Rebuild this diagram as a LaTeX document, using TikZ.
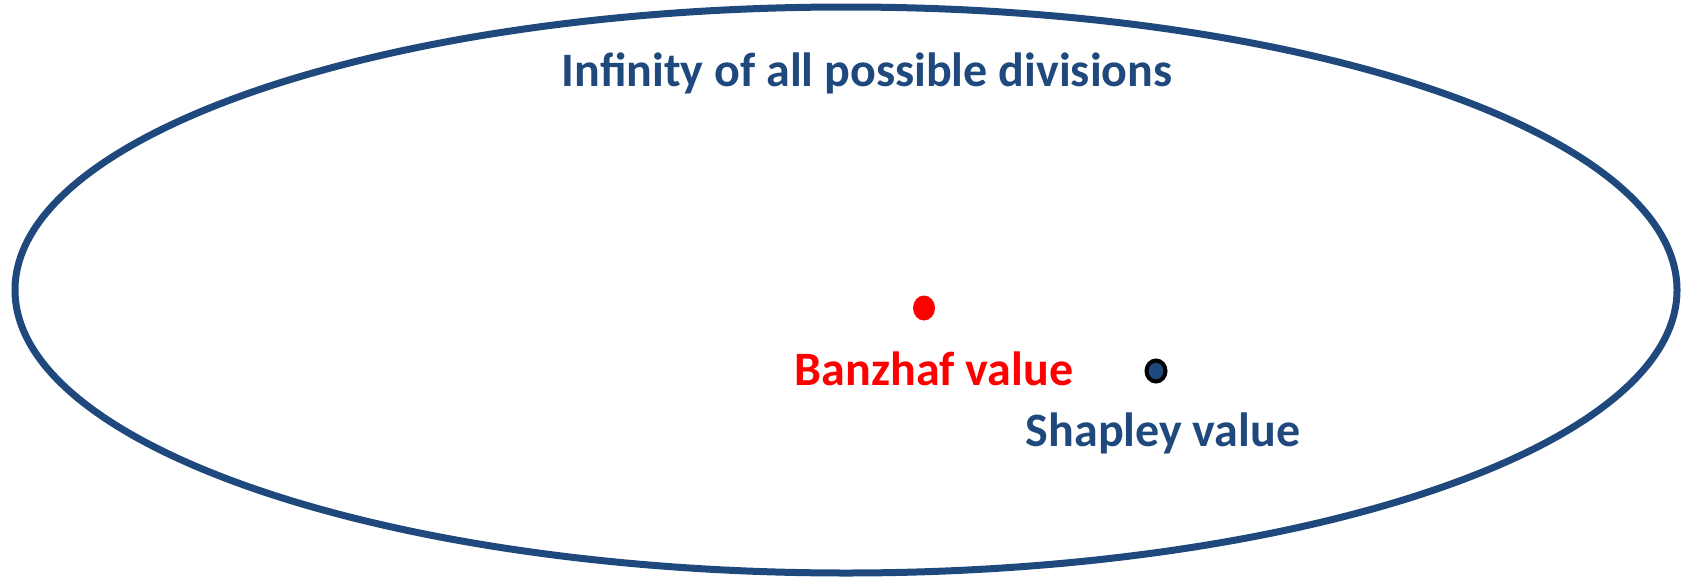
\documentclass[tikz,border=0pt]{standalone}
\usepackage{fontspec}
\setmainfont{Carlito}
\usepackage{tikz}
\usetikzlibrary{shapes.geometric}
\definecolor{divblue}{HTML}{1F497D}
\definecolor{banzred}{HTML}{FF0000}
\tikzset{
  lbl/.style={font=\fontsize{48}{57}\selectfont\bfseries, inner sep=0pt, anchor=base},
  valdot/.style={ellipse, minimum width=22pt, minimum height=25pt, inner sep=0pt}
}

\begin{document}
\begin{tikzpicture}[x=1pt,y=-1pt]
    \useasboundingbox (0,0) rectangle (1685,581);
    \draw [divblue, line width=7pt] (846,290) ellipse [x radius=831, y radius=283];

    \node[lbl, text=divblue] (title) at (867,86) {Infinity of all possible divisions};
    \node[valdot, fill=banzred] (bdot) at (924,308) {};
    \node[lbl, text=banzred] (blabel) at (934,385) {Banzhaf value};
    \node[valdot, fill=divblue, draw=black, line width=4pt, minimum width=19pt, minimum height=21pt] (sdot) at (1156,371) {};
    \node[lbl, text=divblue] (slabel) at (1163,446) {Shapley value};
\end{tikzpicture}
\end{document}
